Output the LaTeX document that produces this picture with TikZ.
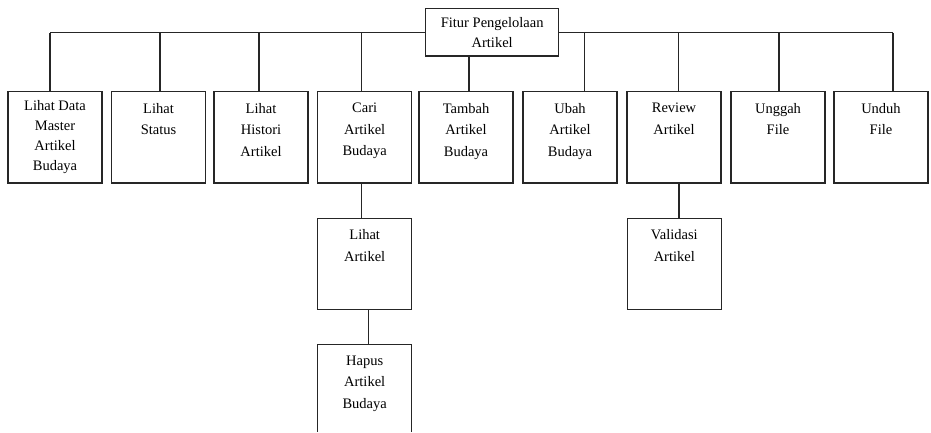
\documentclass[tikz,border=0pt]{standalone}
\usepackage{fontspec}
\setmainfont{Liberation Serif}
\begin{document}
\begin{tikzpicture}[x=1pt,y=-1pt,
  conn/.style={draw=black!85,line width=1.2pt},
  boxnode/.style={draw=black!85,line width=1.2pt,fill=white,inner sep=0pt,outer sep=0pt,
    minimum width=94pt,minimum height=91.3pt,font=\fontsize{14.5}{21.5}\selectfont},
]
\useasboundingbox (0,0) rectangle (931,433);
\newcommand{\boxtext}[2][21.5]{\parbox[c][91.3pt][t]{94pt}{\centering\fontsize{14.5}{#1}\selectfont\vspace*{11.5pt}#2\par}}
% bus
\coordinate (j1) at (50,32.7);
\coordinate (j2) at (160,32.7);
\coordinate (j3) at (259,32.7);
\coordinate (j4) at (361.7,32.7);
\coordinate (j6) at (584.7,32.7);
\coordinate (j7) at (678.7,32.7);
\coordinate (j8) at (779,32.7);
\coordinate (j9) at (893,32.7);
\draw[conn] (j1) -- (j9);
% boxes
\node[boxnode] (b1) at (55,137.35) {\boxtext[20]{\vspace*{-3pt}Lihat Data\\Master\\Artikel\\Budaya}};
\node[boxnode,minimum width=93pt] (b2) at (158.5,137.35) {\boxtext{Lihat\\Status}};
\node[boxnode] (b3) at (261,137.35) {\boxtext{Lihat\\Histori\\Artikel}};
\node[boxnode] (b4) at (364.7,137.35) {\boxtext{Cari\\Artikel\\Budaya}};
\node[boxnode] (b5) at (466,137.35) {\boxtext{Tambah\\Artikel\\Budaya}};
\node[boxnode] (b6) at (570,137.35) {\boxtext{Ubah\\Artikel\\Budaya}};
\node[boxnode] (b7) at (674,137.35) {\boxtext{Review\\Artikel}};
\node[boxnode] (b8) at (778,137.35) {\boxtext{Unggah\\File}};
\node[boxnode] (b9) at (881,137.35) {\boxtext{Unduh\\File}};
% top node
\node[draw=black!85,line width=1.2pt,fill=white,inner sep=0pt,minimum width=133pt,minimum height=47.7pt,
  align=center,font=\fontsize{14.5}{20}\selectfont] (top) at (492.2,32.15) {Fitur Pengelolaan\\Artikel};
% drops
\draw[conn] (j1) -- (j1 |- b1.north);
\draw[conn] (j2) -- (j2 |- b2.north);
\draw[conn] (j3) -- (j3 |- b3.north);
\draw[conn] (j4) -- (j4 |- b4.north);
\draw[conn] (top.south -| 469,0) -- (b5.north -| 469,0);
\draw[conn] (j6) -- (j6 |- b6.north);
\draw[conn] (j7) -- (j7 |- b7.north);
\draw[conn] (j8) -- (j8 |- b8.north);
\draw[conn] (j9) -- (j9 |- b9.north);
% sub boxes
\node[boxnode,minimum height=91pt] (s1) at (364.7,263.8) {\boxtext{Lihat\\Artikel}};
\node[boxnode,minimum height=91pt] (v1) at (674.3,263.8) {\boxtext{Validasi\\Artikel}};
\draw[conn] (b4.south -| 361.7,0) -- (s1.north -| 361.7,0);
\draw[conn] (b7.south -| 679,0) -- (v1.north -| 679,0);
\begin{scope}
\clip (0,0) rectangle (931,431);
\node[boxnode] (s2) at (364.7,389.95) {\boxtext{Hapus\\Artikel\\Budaya}};
\end{scope}
\draw[conn] (s1.south -| 368.3,0) -- (s2.north -| 368.3,0);
\end{tikzpicture}
\end{document}
